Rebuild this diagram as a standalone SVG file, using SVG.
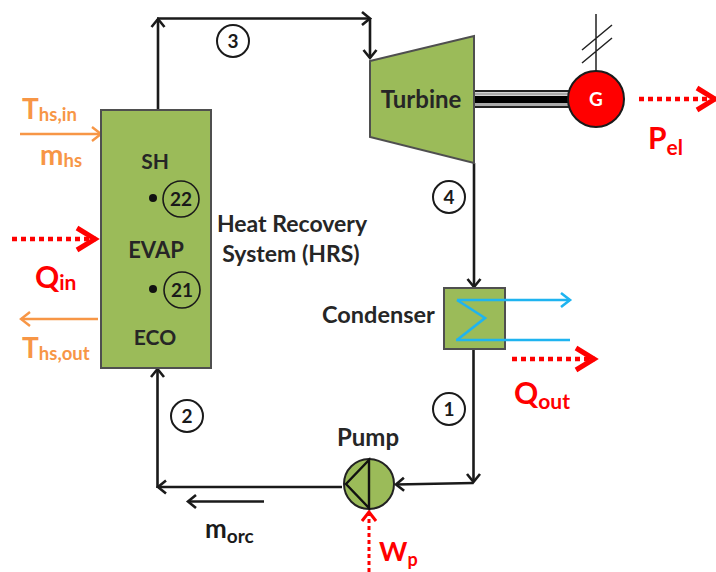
<svg xmlns="http://www.w3.org/2000/svg" width="716" height="572" viewBox="0 0 716 572">
<defs>
<style>
text{font-family:Lato,"Liberation Sans",sans-serif;font-weight:700}
.k{fill:#262626;font-size:22px}
.o{fill:#f79646}
.r{fill:#ff0000}
.eq{fill:#9bbb59;stroke:#4f4f4f;stroke-width:2}
.c{fill:#fff;stroke:#1a1a1a;stroke-width:2}
.n{fill:#1a1a1a;font-size:19px;text-anchor:middle}
.ln{fill:none;stroke:#1a1a1a;stroke-width:2.600}
.dot{fill:none;stroke:#ff0000;stroke-width:4.500;stroke-dasharray:5 4}
</style>
<marker id="ka" markerUnits="userSpaceOnUse" markerWidth="20" markerHeight="20" refX="15" refY="10" orient="auto"><path d="M7 3.500L15 10L7 16.500" fill="none" stroke="#1a1a1a" stroke-width="2.600"/></marker>
<marker id="oa" markerUnits="userSpaceOnUse" markerWidth="20" markerHeight="20" refX="15" refY="10" orient="auto"><path d="M6 3L15 10L6 17" fill="none" stroke="#f79646" stroke-width="2.400"/></marker>
<marker id="ba" markerUnits="userSpaceOnUse" markerWidth="20" markerHeight="20" refX="15" refY="10" orient="auto"><path d="M6 3L15 10L6 17" fill="none" stroke="#1fb4f0" stroke-width="2.600"/></marker>
<marker id="ra" markerUnits="userSpaceOnUse" markerWidth="30" markerHeight="30" refX="25" refY="15" orient="auto"><path d="M6 4L24 15L6 26" fill="none" stroke="#ff0000" stroke-width="5"/></marker>
<marker id="ras" markerUnits="userSpaceOnUse" markerWidth="20" markerHeight="20" refX="16" refY="10" orient="auto"><path d="M6 3L15 10L6 17" fill="none" stroke="#ff0000" stroke-width="3"/></marker>
</defs>
<g id="connectors">
<path class="ln" d="M158 110V19" marker-end="url(#ka)"/>
<path class="ln" d="M157 18.500H370" marker-end="url(#ka)"/>
<path class="ln" d="M370 18V58" marker-end="url(#ka)"/>
<path class="ln" d="M474 163V287" marker-end="url(#ka)"/>
<path class="ln" d="M473.500 349V482" marker-end="url(#ka)"/>
<path class="ln" d="M473.500 483L396 484.500" marker-end="url(#ka)"/>
<path class="ln" d="M342 487H158" marker-end="url(#ka)"/>
<path class="ln" d="M157.500 488V369" marker-end="url(#ka)"/>
<path class="ln" d="M264 501.500H188" marker-end="url(#ka)"/>
<path d="M20 134H101" fill="none" stroke="#f79646" stroke-width="2.400" marker-end="url(#oa)"/>
<path d="M98 319H21" fill="none" stroke="#f79646" stroke-width="2.400" marker-end="url(#oa)"/>
<path class="dot" d="M12 239H96" marker-end="url(#ra)"/>
<path class="dot" d="M639 99H716" marker-end="url(#ra)"/>
<path class="dot" d="M512 359H595" marker-end="url(#ra)"/>
<path d="M369 572V511" fill="none" stroke="#ff0000" stroke-width="3" stroke-dasharray="4 3" marker-end="url(#ras)"/>
</g>
<g id="hrs">
<rect class="eq" x="101" y="110" width="110" height="258"/>
<text class="k" x="155" y="169" text-anchor="middle" font-size="21" style="font-size:21px">SH</text>
<text class="k" x="156" y="258" text-anchor="middle">EVAP</text>
<text class="k" x="155" y="345" text-anchor="middle" style="font-size:21px">ECO</text>
<circle cx="153" cy="198" r="4" fill="#111"/>
<circle cx="153" cy="289" r="4" fill="#111"/>
<circle cx="181" cy="199" r="18" fill="none" stroke="#1a1a1a" stroke-width="1.600"/>
<circle cx="182" cy="290" r="18" fill="none" stroke="#1a1a1a" stroke-width="1.600"/>
<text class="n" x="181" y="205.500">22</text>
<text class="n" x="182" y="296.500">21</text>
</g>
<g id="hrs-label">
<text class="k" x="292" y="232" text-anchor="middle" style="font-size:23px">Heat Recovery</text>
<text class="k" x="291" y="262" text-anchor="middle" style="font-size:23px">System (HRS)</text>
</g>
<g id="shaft">
<rect x="474" y="90" width="95" height="18" fill="#fff"/>
<path d="M474 91H569M474 107H569" stroke="#222" stroke-width="2" fill="none"/>
<path d="M474 94H569M474 104.500H569" stroke="#aaa" stroke-width="3" fill="none"/>
<path d="M474 99.500H569" stroke="#000" stroke-width="7" fill="none"/>
</g>
<g id="turbine">
<path class="eq" d="M370 61L474 36V163L370 137Z"/>
<text class="k" x="421" y="108" text-anchor="middle" style="font-size:24px">Turbine</text>
</g>
<g id="generator">
<path d="M596 14V71M582 50L612 25M582 63L612 38" fill="none" stroke="#222" stroke-width="1.500"/>
<circle cx="596" cy="99" r="28" fill="#ff0000" stroke="#1a1a1a" stroke-width="2"/>
<text x="596" y="106" text-anchor="middle" fill="#fff" font-size="19">G</text>
</g>
<g id="condenser">
<rect class="eq" x="444" y="288" width="61" height="61"/>
<path d="M457 340L485 318L457 300" fill="none" stroke="#1fb4f0" stroke-width="2.600"/>
<path d="M456 340H570" fill="none" stroke="#1fb4f0" stroke-width="2.600"/>
<path d="M457 300H570" fill="none" stroke="#1fb4f0" stroke-width="2.600" marker-end="url(#ba)"/>
<text class="k" x="322" y="323" style="font-size:23.500px">Condenser</text>
</g>
<g id="pump">
<circle cx="369" cy="484" r="25" fill="#9bbb59" stroke="#222" stroke-width="2"/>
<path d="M369 460V508L346 484Z" fill="none" stroke="#111" stroke-width="2.400"/>
<text class="k" x="368" y="446" text-anchor="middle" style="font-size:24px">Pump</text>
</g>
<g id="state-labels">
<circle class="c" cx="233" cy="41" r="16"/><text class="n" x="233" y="47.500">3</text>
<circle class="c" cx="449" cy="197" r="16"/><text class="n" x="449" y="203.500">4</text>
<circle class="c" cx="449" cy="409" r="16"/><text class="n" x="449" y="415.500">1</text>
<circle class="c" cx="187" cy="416" r="16"/><text class="n" x="187" y="422.500">2</text>
</g>
<g id="quantities">
<text class="o" x="22" y="119" font-size="28">T<tspan font-size="18.500" dy="2">hs,in</tspan></text>
<text class="o" x="40" y="165" font-size="28">m<tspan font-size="18.500" dy="2">hs</tspan></text>
<text class="o" x="22" y="358" font-size="28">T<tspan font-size="18.500" dy="2">hs,out</tspan></text>
<text class="r" x="35" y="288" font-size="30">Q<tspan font-size="21" dy="2">in</tspan></text>
<text class="r" x="648" y="149" font-size="30">P<tspan font-size="21" dy="6">el</tspan></text>
<text class="r" x="514" y="404" font-size="30">Q<tspan font-size="21" dy="5">out</tspan></text>
<text class="r" x="379" y="561" font-size="27">W<tspan font-size="18" dy="5">p</tspan></text>
<text fill="#1a1a1a" x="205" y="538" font-size="26">m<tspan font-size="19" dy="5">orc</tspan></text>
</g>
</svg>
